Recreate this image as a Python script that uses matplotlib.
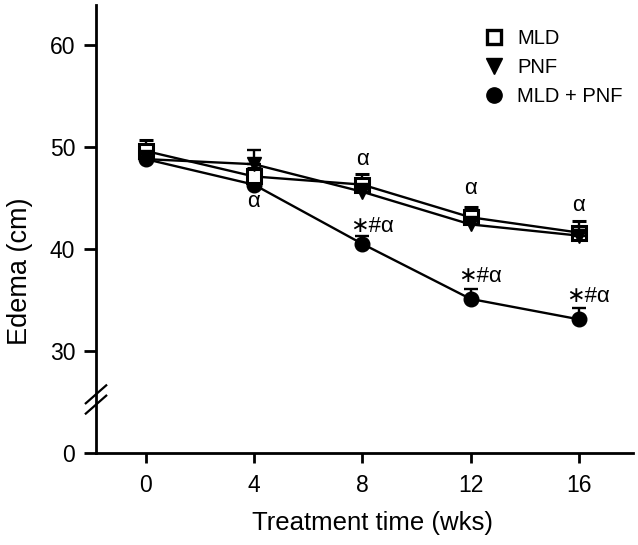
import matplotlib

matplotlib.use("Agg")
import matplotlib.pyplot as plt

plt.rcParams["font.family"] = ["Liberation Sans", "DejaVu Sans"]

# weeks of treatment
weeks = [0, 4, 8, 12, 16]

# edema (cm); y axis is broken, values plotted as read
mld = [49.6, 47.1, 46.3, 43.1, 41.6]
mld_err = [1.1, 0.8, 1.0, 1.0, 1.1]
pnf = [48.8, 48.3, 45.6, 42.4, 41.3]
pnf_err = [0.8, 1.4, 0.8, 0.7, 0.8]
combo = [48.8, 46.3, 40.5, 35.1, 33.1]
combo_err = [0.6, 0.7, 0.8, 1.0, 1.1]

# significance marks: (week, y, text)
marks_alpha = [(4, 44.6, "α"), (8, 48.8, "α"), (12, 45.9, "α"), (16, 44.3, "α")]
marks_combo = [(8, 42.2, "∗#α"), (12, 37.3, "∗#α"), (16, 35.3, "∗#α")]

# y ticks: the axis jumps from 0 to 30, so "0" sits one step below 30
ytick_pos = [20, 30, 40, 50, 60]
ytick_labels = ["0", "30", "40", "50", "60"]

W, H = 638, 545
fig = plt.figure(figsize=(W / 100, H / 100), dpi=100)
ax = fig.add_axes([96 / W, 92 / H, 537 / W, 448 / H])

ax.set_xlim(-1.83, 18.0)
ax.set_ylim(20, 63.9)

lw = 1.7
common = dict(color="black", linewidth=lw, capsize=4.8, capthick=lw,
              elinewidth=lw, clip_on=False)

ax.errorbar(weeks, combo, yerr=[[0] * 5, combo_err], marker="o",
            markersize=10.5, markerfacecolor="black", markeredgecolor="black",
            zorder=3, **common)
ax.errorbar(weeks, mld, yerr=[[0] * 5, mld_err], marker="s",
            markersize=9.5, markerfacecolor="white", markeredgecolor="black",
            markeredgewidth=2.2, zorder=4, **common)
ax.errorbar(weeks, pnf, yerr=[[0] * 5, pnf_err], marker="v",
            markersize=10, markerfacecolor="black", markeredgecolor="black",
            zorder=5, **common)

for wk, y, txt in marks_alpha:
    ax.text(wk, y, txt, ha="center", va="center", fontsize=16)
for wk, y, txt in marks_combo:
    ax.annotate(txt, (wk, y), xytext=(-9, 0), textcoords="offset points",
                ha="left", va="center", fontsize=16)

# legend (markers only)
h1, = ax.plot([], [], "s", color="black", markerfacecolor="white",
              markeredgewidth=2.4, markersize=10)
h2, = ax.plot([], [], "v", color="black", markersize=11)
h3, = ax.plot([], [], "o", color="black", markersize=11)
fig.legend([h1, h2, h3], ["MLD", "PNF", "MLD + PNF"], loc="upper left",
           bbox_to_anchor=(484 / W, 1 - 29 / H), frameon=False, fontsize=14.5,
           handlelength=1.0, handletextpad=0.65, labelspacing=0.5,
           borderpad=0, borderaxespad=0)

ax.spines["top"].set_visible(False)
ax.spines["right"].set_visible(False)
ax.spines["left"].set_linewidth(2)
ax.spines["bottom"].set_linewidth(2)

ax.set_xticks(weeks)
ax.set_xticklabels([str(w) for w in weeks])
ax.set_yticks(ytick_pos)
ax.set_yticklabels(ytick_labels)
ax.tick_params(axis="both", labelsize=16.5, width=2, length=9, colors="black")
ax.tick_params(axis="y", pad=6)
ax.tick_params(axis="x", length=7, pad=8)

# axis break marks
for yc in (0.131, 0.108):
    ax.plot([-0.019, 0.019], [yc - 0.02, yc + 0.02], transform=ax.transAxes,
            color="black", linewidth=1.6, clip_on=False)

ax.set_xlabel("Treatment time (wks)", fontsize=18.5)
ax.xaxis.set_label_coords((372 - 96) / 537, (453 - 511) / 448)
ax.set_ylabel("Edema (cm)", fontsize=19.5)
ax.yaxis.set_label_coords((33 - 96) / 537, (453 - 271) / 448)

fig.savefig("out.png", dpi=100)
